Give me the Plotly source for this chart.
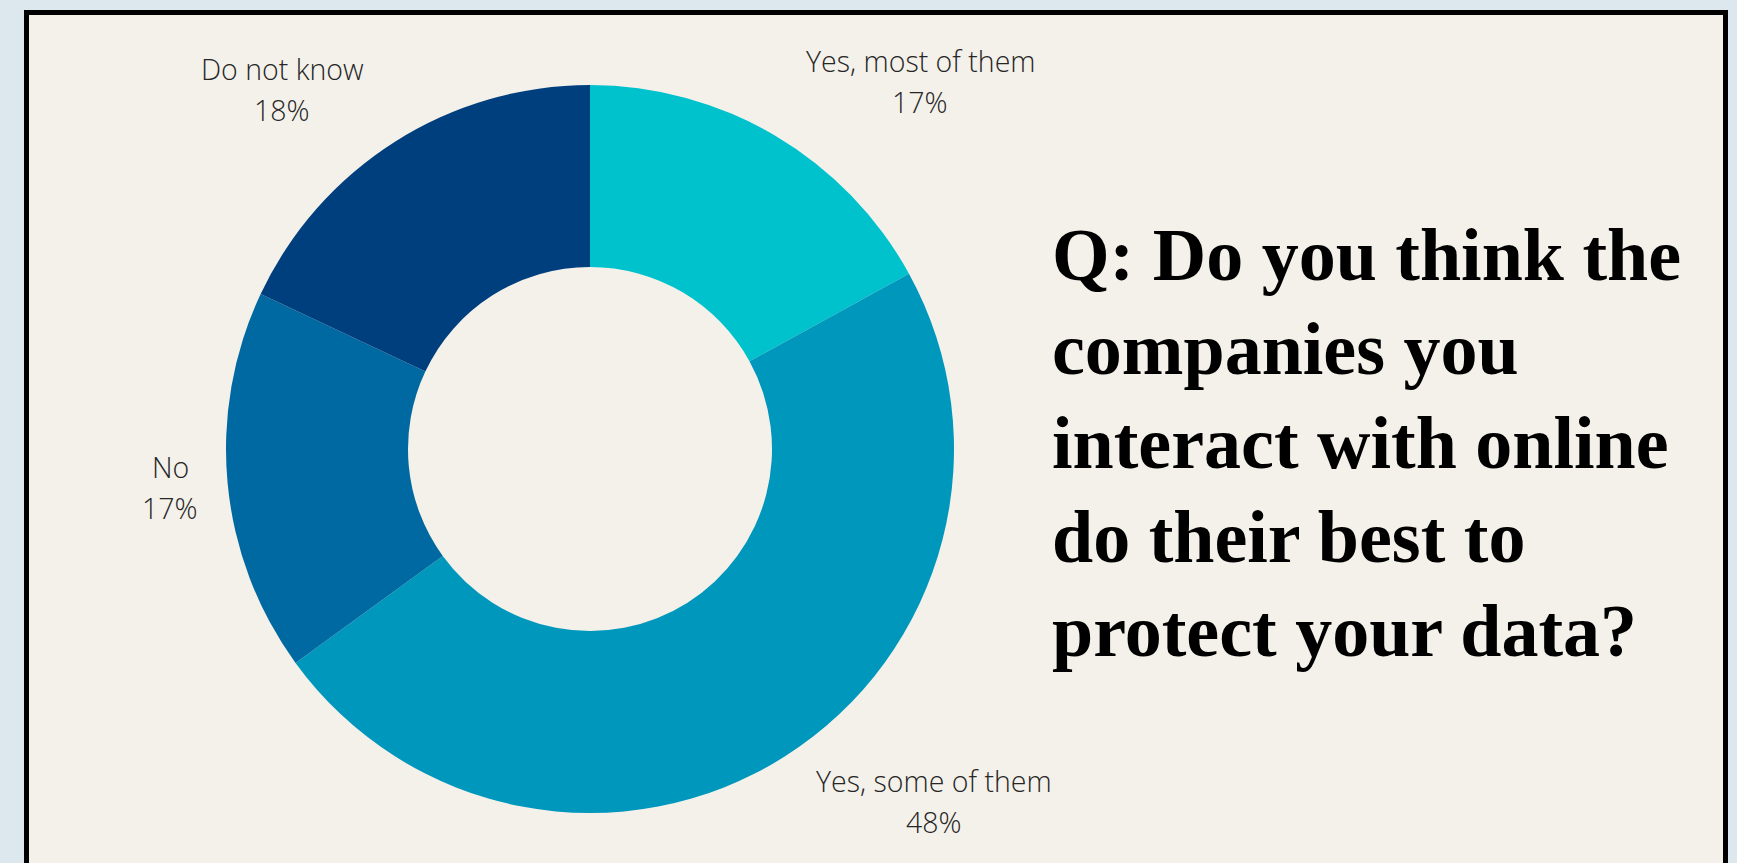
import plotly.graph_objects as go

# Survey answers, in clockwise order from 12 o'clock
answers = ["Yes, most of them", "Yes, some of them", "No", "Do not know"]
shares = [17, 48, 17, 18]
slice_colors = ["#00c2cc", "#0097bd", "#0069a1", "#003f7e"]

# Where each answer's caption sits (pixel centre of the two-line block)
caption_x = [920, 934, 170, 282]
caption_y = [82, 802, 488, 90]

question_lines = [
    "Q: Do you think the",
    "companies you",
    "interact with online",
    "do their best to",
    "protect your data?",
]

W, H = 1737, 863
OUTER_BG = "#dce8ee"
PANEL_BG = "#f4f1ea"


def px_x(x):
    return x / W


def px_y(y):
    return 1 - y / H


# Donut placement in pixels
cx, cy, r = 590, 449, 364

fig = go.Figure(
    go.Pie(
        labels=answers,
        values=shares,
        marker=dict(colors=slice_colors, line=dict(width=0)),
        hole=0.5,
        sort=False,
        direction="clockwise",
        rotation=0,
        textinfo="none",
        hoverinfo="label+percent",
        showlegend=False,
        domain=dict(x=[px_x(cx - r), px_x(cx + r)], y=[px_y(cy + r), px_y(cy - r)]),
    )
)

annotations = []
label_font = dict(family="Open Sans", size=28.5, color="#262626", weight=300)
for name, val, x, y in zip(answers, shares, caption_x, caption_y):
    annotations.append(dict(
        text=name, x=px_x(x), y=px_y(y - 21), xref="paper", yref="paper",
        xanchor="center", yanchor="middle", showarrow=False, font=label_font,
    ))
    annotations.append(dict(
        text=f"{val}%", x=px_x(x), y=px_y(y + 20), xref="paper", yref="paper",
        xanchor="center", yanchor="middle", showarrow=False, font=label_font,
    ))

q_font = dict(family="Liberation Serif", size=74, color="#000000", weight="bold")
first_baseline, line_gap = 278, 94
for i, line in enumerate(question_lines):
    baseline = first_baseline + i * line_gap
    annotations.append(dict(
        text=line, x=px_x(1050), y=px_y(baseline - 23), xref="paper", yref="paper",
        xanchor="left", yanchor="middle", showarrow=False, font=q_font,
    ))

fig.update_layout(
    width=W,
    height=H,
    margin=dict(l=0, r=0, t=0, b=0),
    paper_bgcolor=OUTER_BG,
    plot_bgcolor=OUTER_BG,
    annotations=annotations,
    shapes=[
        dict(
            type="rect", xref="paper", yref="paper", layer="below",
            x0=px_x(26.5), x1=px_x(1725.5), y0=px_y(12.5), y1=px_y(900),
            fillcolor=PANEL_BG, line=dict(color="#000000", width=5),
        )
    ],
)

fig.write_html("out.html", config={"displayModeBar": False})
